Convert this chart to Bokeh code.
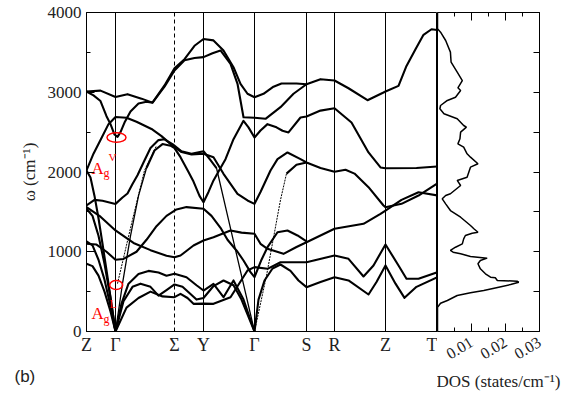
from bokeh.plotting import figure
from bokeh.models import Range1d, FixedTicker, LinearAxis, Title, PrintfTickFormatter
from bokeh.layouts import row
from bokeh.embed import file_html
from bokeh.resources import INLINE

# ---------------- data ----------------
kpt_pos = [0, 29, 88, 117, 168, 220, 248, 299, 351]
kpt_lab = ["Z", "Γ", "Σ", "Y", "Γ", "S", "R", "Z", "T"]

# phonon branches (path coordinate, frequency in cm^-1) - thick lines
b1_k = [0, 14, 29, 41, 55, 66, 78, 88, 98, 108, 117, 127, 137, 147, 154, 161, 168, 177, 187, 195, 210, 220, 234, 248, 262, 281, 297, 299, 312, 320, 329, 337, 345, 351]
b1_w = [3010, 3020, 2940, 2976, 2920, 2870, 3085, 3300, 3415, 3583, 3668, 3650, 3524, 3314, 3106, 2981, 2938, 2980, 3070, 3110, 3110, 3100, 3164, 3147, 3050, 2900, 2997, 3010, 3080, 3330, 3540, 3720, 3790, 3780]
b2_k = [0, 7, 14, 20, 24, 28, 31, 34, 38, 44, 52, 60, 66, 78, 88, 98, 108, 117, 126, 134, 144, 151, 157, 168, 179, 194, 207, 220]
b2_w = [3010, 2960, 2890, 2700, 2600, 2470, 2440, 2500, 2620, 2760, 2860, 2880, 2870, 3070, 3273, 3400, 3430, 3440, 3490, 3524, 3357, 3106, 2687, 2680, 2667, 2813, 2981, 3100]
b3_k = [0, 7, 14, 22, 29, 40, 50, 65, 75, 85, 95, 105, 117, 127, 137, 151, 161, 168, 174, 184, 191, 201, 214, 220, 234, 248, 259, 268, 282, 297, 299, 315, 332, 349, 351]
b3_w = [2020, 2230, 2400, 2600, 2690, 2680, 2630, 2540, 2450, 2340, 2250, 2220, 2230, 2186, 1977, 1727, 1643, 1600, 1750, 2019, 2161, 2245, 2161, 2120, 2050, 2003, 2028, 1980, 1810, 1580, 1559, 1601, 1705, 1843, 1852]
b4_k = [60, 68, 76, 84, 88, 94, 102, 107, 113, 117, 122, 127, 134, 139, 147, 157, 162, 168, 174, 181, 190, 196, 202, 214, 220, 234, 248, 265, 282, 294, 299, 330, 351]
b4_w = [2050, 2270, 2350, 2330, 2300, 2186, 2000, 1880, 1700, 1621, 1750, 1894, 2050, 2161, 2412, 2642, 2560, 2433, 2520, 2600, 2560, 2517, 2496, 2683, 2696, 2770, 2800, 2620, 2245, 2057, 2047, 2050, 2070]
b5_k = [0, 8, 16, 29, 36, 41, 46, 51, 57, 64, 72, 78, 86, 95, 105, 117, 124, 130]
b5_w = [1580, 1650, 1640, 1600, 1680, 1730, 1850, 1960, 2120, 2300, 2400, 2410, 2350, 2260, 2230, 2260, 2150, 2050]
b6_k = [0, 4, 8, 12, 16, 20, 24, 29]
b6_w = [2020, 1930, 1700, 1420, 1100, 770, 430, 0]
b7_k = [0, 6, 12, 18, 24, 29]
b7_w = [1540, 1450, 1200, 850, 420, 0]
b8_k = [0, 6, 12, 18, 24, 29]
b8_w = [1130, 1080, 900, 650, 320, 0]
b9_k = [0, 6, 12, 18, 24, 29]
b9_w = [850, 820, 700, 500, 250, 0]
b10_k = [0, 14, 29, 47, 64, 80, 88, 94, 107, 117, 127, 144, 155, 168, 174, 181, 197, 210, 220, 248, 277, 294, 299, 315, 332, 351]
b10_w = [1560, 1440, 1267, 1110, 1020, 950, 930, 953, 1078, 1141, 1183, 1267, 1240, 1225, 1100, 1037, 974, 1060, 1120, 1288, 1350, 1476, 1517, 1650, 1747, 1705]
b11_k = [0, 10, 20, 29, 37, 50, 60, 70, 80, 90, 100, 117, 125, 134, 141, 151, 157, 164, 168, 175, 181, 191, 201, 211, 220]
b11_w = [1100, 1090, 1000, 900, 910, 1000, 1150, 1320, 1450, 1530, 1560, 1540, 1450, 1300, 1150, 1000, 890, 744, 681, 900, 1057, 1245, 1267, 1204, 1130]
b12_k = [29, 35, 42, 52, 62, 72, 80, 88, 100, 110, 117, 127, 137, 147, 157, 168]
b12_w = [0, 350, 600, 720, 760, 740, 700, 724, 680, 580, 514, 598, 430, 640, 400, 0]
b13_k = [29, 37, 46, 54, 64, 72, 80, 88, 96, 104, 110, 117, 127, 137, 147, 155, 168]
b13_w = [0, 380, 560, 600, 560, 450, 520, 590, 560, 470, 400, 420, 570, 640, 580, 400, 0]
b14_k = [29, 40, 52, 64, 76, 88, 94, 101, 107, 117, 127, 144, 161, 168, 181, 194, 220, 248, 262, 277, 287, 299, 312, 320, 332, 351]
b14_w = [0, 300, 420, 500, 440, 430, 472, 420, 347, 350, 347, 430, 765, 807, 786, 869, 869, 953, 911, 690, 828, 1091, 828, 661, 661, 744]
b15_k = [168, 172, 178, 186, 194, 204, 212, 220, 234, 248, 262, 282, 290, 299, 309, 318, 330, 351]
b15_w = [0, 400, 640, 790, 840, 760, 640, 556, 620, 681, 640, 464, 620, 828, 600, 422, 560, 681]
b16_k = [200, 210, 220]
b16_w = [1980, 2090, 2120]

# thin acoustic branches
t1_k = [29, 36, 44, 52, 60]
t1_w = [0, 600, 1200, 1700, 2050]
t2_k = [130, 140, 150, 160, 168]
t2_w = [2050, 1510, 970, 430, 0]

# dotted branches
dot_k = [31, 45, 58, 70]
dot_w = [600, 1350, 2020, 2330]
dot2_k = [168, 180, 194, 200]
dot2_w = [0, 700, 1650, 1980]

# density of states (states/cm^-1 vs frequency)
dos_w = [4000, 3796, 3753, 3649, 3503, 3377, 3252, 3147, 3056, 3022, 2938, 2897, 2834, 2793, 2730, 2667, 2583, 2562, 2500, 2416, 2353, 2311, 2228, 2186, 2103, 2061, 1935, 1894, 1831, 1727, 1705, 1664, 1601, 1517, 1433, 1329, 1288, 1245, 1233, 1204, 1162, 1099, 1057, 1016, 995, 974, 941, 920, 890, 849, 786, 724, 681, 673, 640, 631, 618, 589, 556, 514, 485, 451, 389, 355, 326, 305, 0]
dos_v = [0, 0, 0.0009, 0.0024, 0.0038, 0.0040, 0.0058, 0.0073, 0.0060, 0.0068, 0.0053, 0.0029, 0.0009, 0.0007, 0.0019, 0.0058, 0.0077, 0.0085, 0.0068, 0.0066, 0.0060, 0.0077, 0.0087, 0.0097, 0.0119, 0.0097, 0.0087, 0.0058, 0.0068, 0.0038, 0.0024, 0.0014, 0.0024, 0.0038, 0.0068, 0.0097, 0.0107, 0.0119, 0.0102, 0.0082, 0.0077, 0.0073, 0.0053, 0.0038, 0.0046, 0.0068, 0.0097, 0.0146, 0.0126, 0.0119, 0.0126, 0.0141, 0.0156, 0.0170, 0.0176, 0.0234, 0.0239, 0.0215, 0.0180, 0.0136, 0.0097, 0.0058, 0.0029, 0.0009, 0.0004, 0, 0]

dos_ticks = [0.01, 0.02, 0.03]
dos_minor = [0.005, 0.015, 0.025]
w_ticks = [0, 1000, 2000, 3000, 4000]
w_minor = [500, 1500, 2500, 3500]
w_right = [500, 1000, 1500, 2000, 2500, 3000, 3500]

SERIF = "Liberation Serif"
SANS = "Liberation Sans"
TXT = "#222222"

# ---------------- band panel ----------------
p1 = figure(width=437, height=394, x_range=Range1d(0, 351), y_range=Range1d(0, 4000),
            output_backend="svg", toolbar_location=None,
            min_border_left=86, min_border_right=0, min_border_top=12, min_border_bottom=63)
p1.grid.visible = False
p1.outline_line_color = "black"

ya = p1.yaxis[0]
ya.ticker = FixedTicker(ticks=w_ticks, minor_ticks=w_minor)
ya.major_tick_in = 8
ya.major_tick_out = 0
ya.minor_tick_in = 4
ya.minor_tick_out = 0
ya.major_label_standoff = 5
ya.major_label_text_font = SERIF
ya.major_label_text_font_size = "17px"
ya.major_label_text_color = TXT
ya.axis_label = "ω (cm⁻¹)"
ya.axis_label_text_font = SERIF
ya.axis_label_text_font_style = "normal"
ya.axis_label_text_font_size = "17px"
ya.axis_label_text_color = TXT
ya.axis_label_standoff = 6
ya.axis_line_color = "black"

xa = p1.xaxis[0]
xa.ticker = FixedTicker(ticks=kpt_pos, minor_ticks=[])
xa.major_label_overrides = {k: lab for k, lab in zip(kpt_pos, kpt_lab)}
xa.major_tick_in = 0
xa.major_tick_out = 0
xa.major_label_standoff = 3
xa.major_label_text_font = SERIF
xa.major_label_text_font_size = "18px"
xa.major_label_text_color = TXT
xa.axis_line_color = "black"

solid_k = [k for k, lab in zip(kpt_pos, kpt_lab) if lab != "Σ"]
dash_k = [k for k, lab in zip(kpt_pos, kpt_lab) if lab == "Σ"]
p1.segment(x0=solid_k, y0=[w_ticks[0]] * len(solid_k), x1=solid_k, y1=[w_ticks[-1]] * len(solid_k),
           line_color="black", line_width=1)
p1.segment(x0=dash_k, y0=[w_ticks[0]], x1=dash_k, y1=[w_ticks[-1]], line_color="black",
           line_width=1, line_dash="4 3")

thick = [(b1_k, b1_w), (b2_k, b2_w), (b3_k, b3_w), (b4_k, b4_w), (b5_k, b5_w), (b6_k, b6_w),
         (b7_k, b7_w), (b8_k, b8_w), (b9_k, b9_w), (b10_k, b10_w), (b11_k, b11_w),
         (b12_k, b12_w), (b13_k, b13_w), (b14_k, b14_w), (b15_k, b15_w), (b16_k, b16_w)]
for bk, bw in thick:
    p1.line(bk, bw, line_color="black", line_width=2.1, line_join="round")
for bk, bw in [(t1_k, t1_w), (t2_k, t2_w)]:
    p1.line(bk, bw, line_color="black", line_width=1.3)
p1.line(dot_k, dot_w, line_color="black", line_width=1, line_dash="2 1")
p1.line(dot2_k, dot2_w, line_color="black", line_width=1, line_dash="2 1")

# red annotations (mode markers)
p1.ellipse(x=[30, 29.7], y=[2433, 583], width=[19, 13], height=[120, 113], fill_color=None,
           line_color="red", line_width=1.5)
p1.text(x=[5, 5], y=[2044, 226], text=["A", "A"], text_color="red", text_font=SERIF,
        text_font_size="17px", text_baseline="alphabetic")
p1.text(x=[17, 17], y=[1990, 157], text=["g", "g"], text_color="red", text_font=SERIF,
        text_font_size="12px", text_baseline="alphabetic")
p1.text(x=[22], y=[2182], text=["V"], text_color="red", text_font=SERIF,
        text_font_size="11px", text_baseline="alphabetic")
p1.text(x=[23], y=[339], text=["L"], text_color="red", text_font=SERIF,
        text_font_size="12px", text_baseline="alphabetic")

p1.add_layout(Title(text="(b)", align="left", offset=-72, standoff=15, text_font=SANS,
                    text_font_size="17px", text_font_style="normal", text_color=TXT), "below")

# ---------------- DOS panel ----------------
p2 = figure(width=129, height=394, x_range=Range1d(0, 0.03), y_range=p1.y_range,
            output_backend="svg", toolbar_location=None, y_axis_location="right",
            min_border_left=0, min_border_right=27, min_border_top=12, min_border_bottom=63)
p2.grid.visible = False
p2.outline_line_color = "black"

dx = p2.xaxis[0]
dx.ticker = FixedTicker(ticks=dos_ticks, minor_ticks=dos_minor)
dx.formatter = PrintfTickFormatter(format="%.2f")
dx.major_tick_in = 8
dx.major_tick_out = 0
dx.minor_tick_in = 4
dx.minor_tick_out = 0
dx.major_label_orientation = 0.55
dx.major_label_standoff = 9
dx.major_label_text_align = "center"
dx.major_label_text_font = SERIF
dx.major_label_text_font_size = "16px"
dx.major_label_text_color = TXT
dx.axis_line_color = "black"

top = LinearAxis(ticker=FixedTicker(ticks=dos_ticks, minor_ticks=dos_minor),
                 major_tick_in=8, major_tick_out=0, minor_tick_in=4, minor_tick_out=0,
                 major_label_overrides={t: "" for t in dos_ticks}, axis_line_color="black")
p2.add_layout(top, "above")

ry = p2.yaxis[0]
ry.ticker = FixedTicker(ticks=w_right, minor_ticks=[])
ry.major_tick_in = 6
ry.major_tick_out = 0
ry.major_label_overrides = {t: "" for t in w_right}
ry.axis_line_color = "black"

p2.line(dos_v, dos_w, line_color="black", line_width=1.5)
p2.add_layout(Title(text="DOS (states/cm⁻¹)", align="left", offset=-1, standoff=5,
                    text_font=SERIF, text_font_size="17px", text_font_style="normal",
                    text_color=TXT), "below")

layout = row(p1, p2)
open("out.html", "w").write(file_html(layout, INLINE))
